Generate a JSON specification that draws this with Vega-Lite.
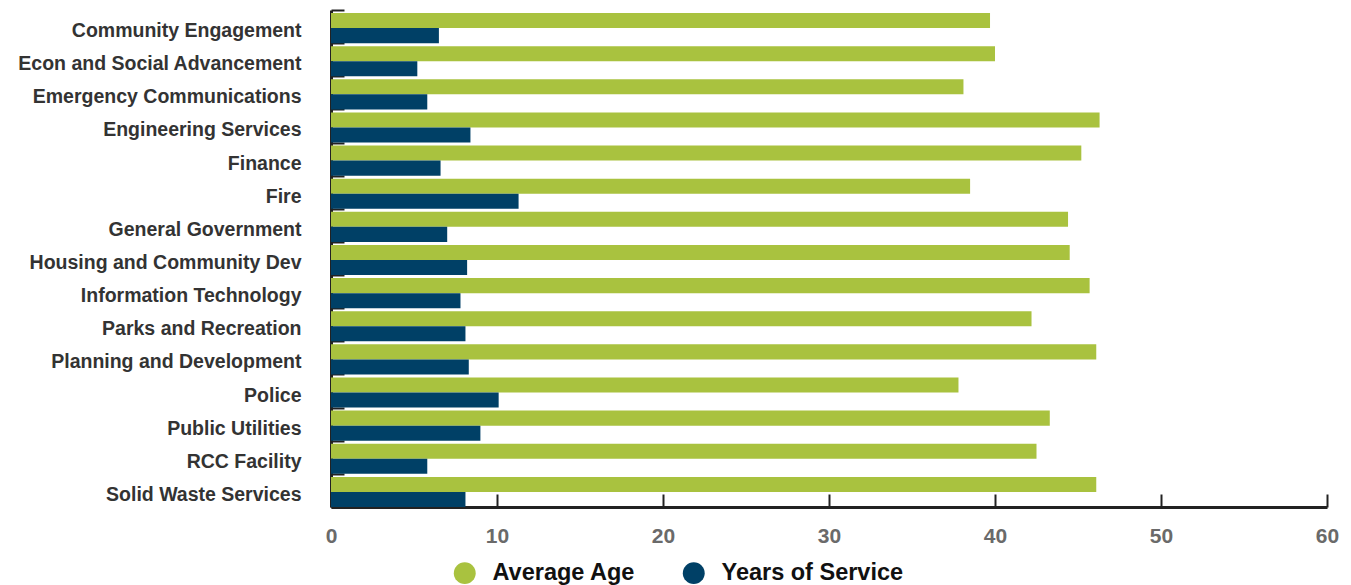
{
  "$schema": "https://vega.github.io/schema/vega-lite/v6.json",
  "width": 996,
  "height": 497,
  "autosize": {"type": "none"},
  "padding": {"left": 331, "top": 10, "right": 24, "bottom": 78},
  "background": "white",
  "config": {
    "view": {"stroke": null},
    "font": "Liberation Sans"
  },
  "data": {
    "values": [
      {"dept": "Community Engagement", "measure": "Average Age", "value": 39.7},
      {"dept": "Community Engagement", "measure": "Years of Service", "value": 6.5},
      {"dept": "Econ and Social Advancement", "measure": "Average Age", "value": 40.0},
      {"dept": "Econ and Social Advancement", "measure": "Years of Service", "value": 5.2},
      {"dept": "Emergency Communications", "measure": "Average Age", "value": 38.1},
      {"dept": "Emergency Communications", "measure": "Years of Service", "value": 5.8},
      {"dept": "Engineering Services", "measure": "Average Age", "value": 46.3},
      {"dept": "Engineering Services", "measure": "Years of Service", "value": 8.4},
      {"dept": "Finance", "measure": "Average Age", "value": 45.2},
      {"dept": "Finance", "measure": "Years of Service", "value": 6.6},
      {"dept": "Fire", "measure": "Average Age", "value": 38.5},
      {"dept": "Fire", "measure": "Years of Service", "value": 11.3},
      {"dept": "General Government", "measure": "Average Age", "value": 44.4},
      {"dept": "General Government", "measure": "Years of Service", "value": 7.0},
      {"dept": "Housing and Community Dev", "measure": "Average Age", "value": 44.5},
      {"dept": "Housing and Community Dev", "measure": "Years of Service", "value": 8.2},
      {"dept": "Information Technology", "measure": "Average Age", "value": 45.7},
      {"dept": "Information Technology", "measure": "Years of Service", "value": 7.8},
      {"dept": "Parks and Recreation", "measure": "Average Age", "value": 42.2},
      {"dept": "Parks and Recreation", "measure": "Years of Service", "value": 8.1},
      {"dept": "Planning and Development", "measure": "Average Age", "value": 46.1},
      {"dept": "Planning and Development", "measure": "Years of Service", "value": 8.3},
      {"dept": "Police", "measure": "Average Age", "value": 37.8},
      {"dept": "Police", "measure": "Years of Service", "value": 10.1},
      {"dept": "Public Utilities", "measure": "Average Age", "value": 43.3},
      {"dept": "Public Utilities", "measure": "Years of Service", "value": 9.0},
      {"dept": "RCC Facility", "measure": "Average Age", "value": 42.5},
      {"dept": "RCC Facility", "measure": "Years of Service", "value": 5.8},
      {"dept": "Solid Waste Services", "measure": "Average Age", "value": 46.1},
      {"dept": "Solid Waste Services", "measure": "Years of Service", "value": 8.1}
    ]
  },
  "mark": {"type": "bar"},
  "encoding": {
    "y": {
      "field": "dept",
      "type": "nominal",
      "sort": null,
      "scale": {"paddingInner": 0, "paddingOuter": 0},
      "axis": {
        "title": null,
        "domainColor": "#222222",
        "domainWidth": 3,
        "tickBand": "extent",
        "tickColor": "#222222",
        "tickWidth": 2,
        "tickSize": -13,
        "labelPadding": 43,
        "labelFont": "Liberation Sans",
        "labelFontSize": 19.5,
        "labelFontWeight": "bold",
        "labelColor": "#333333",
        "labelOffset": 4,
        "labelLimit": 400
      }
    },
    "yOffset": {
      "field": "measure",
      "type": "nominal",
      "scale": {"paddingInner": 0, "paddingOuter": 0.1, "align": 1}
    },
    "x": {
      "field": "value",
      "type": "quantitative",
      "scale": {"domain": [0, 60]},
      "axis": {
        "title": null,
        "values": [0, 10, 20, 30, 40, 50, 60],
        "grid": false,
        "domainColor": "#222222",
        "domainWidth": 3,
        "tickColor": "#222222",
        "tickWidth": 2,
        "tickSize": -13,
        "labelPadding": 31,
        "labelFlush": false,
        "labelFont": "Liberation Sans",
        "labelFontSize": 21,
        "labelFontWeight": "bold",
        "labelColor": "#6a6a6a"
      }
    },
    "color": {
      "field": "measure",
      "type": "nominal",
      "scale": {"domain": ["Average Age", "Years of Service"], "range": ["#A9C23F", "#004066"]},
      "legend": {
        "title": null,
        "orient": "none",
        "direction": "horizontal",
        "legendX": 122,
        "legendY": 551,
        "symbolType": "circle",
        "symbolSize": 480,
        "symbolStrokeWidth": 0,
        "symbolOpacity": 1,
        "labelFont": "Liberation Sans",
        "labelFontSize": 23.5,
        "labelFontWeight": "bold",
        "labelColor": "#111111",
        "labelOffset": 16,
        "columnPadding": 46,
        "labelLimit": 300
      }
    }
  }
}
